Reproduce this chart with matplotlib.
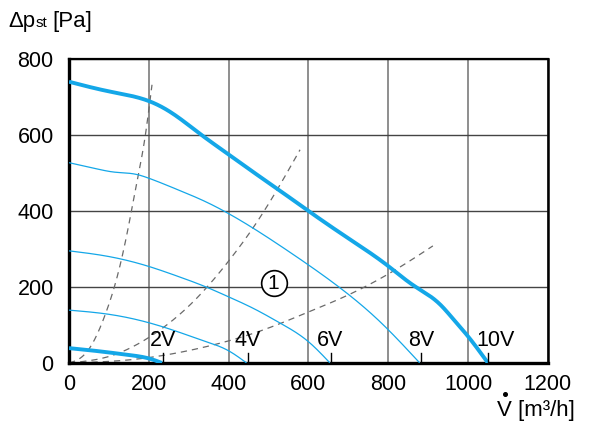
import matplotlib
matplotlib.use("Agg")
import matplotlib.pyplot as plt
from matplotlib.lines import Line2D
import numpy as np

plt.rcParams['font.family'] = ['Liberation Sans', 'DejaVu Sans']

# Fan curves (flow m3/h, static pressure Pa)
v10_x = [0, 103, 203, 253, 332, 378, 450, 525, 600, 700, 800, 862, 929, 965, 1000, 1050]
v10_y = [740, 714, 688, 661, 600, 565, 511, 456, 400, 328, 255, 205, 155, 113, 70, 0]
v8_x = [0, 60, 115, 165, 203, 270, 341, 400, 461, 530, 600, 696, 779, 879]
v8_y = [527, 513, 502, 497, 485, 457, 425, 393, 355, 308, 258, 184, 109, 0]
v6_x = [0, 100, 203, 270, 341, 400, 465, 529, 600, 654]
v6_y = [295, 280, 253, 229, 201, 174, 142, 105, 56, 0]
v4_x = [0, 100, 203, 270, 341, 400, 445]
v4_y = [139, 128, 105, 83, 57, 32, 0]
v2_x = [0, 73, 150, 203, 233]
v2_y = [39, 31, 21, 11, 0]

# System curves (dashed)
s1_x = [0, 30, 57, 90, 124, 149, 170, 190, 208]
s1_y = [0, 14, 48, 125, 240, 359, 475, 590, 732]
s2_x = [0, 100, 200, 328, 400, 461, 524, 579]
s2_y = [0, 17, 67, 179, 268, 355, 460, 561]
s3_x = [0, 150, 328, 495, 600, 696, 829, 912]
s3_y = [0, 8, 39, 90, 134, 177, 252, 308]

labels = ["2V", "4V", "6V", "8V", "10V"]
tick_x = [235, 448, 656, 881, 1050]
label_x = [236, 447, 654, 882, 1068]

blue = "#14a7e8"


def spline(x, y, n=400):
    """Natural cubic spline through the read points."""
    x = np.asarray(x, float); y = np.asarray(y, float)
    N = len(x); h = np.diff(x)
    A = np.zeros((N, N)); b = np.zeros(N)
    A[0, 0] = 1; A[-1, -1] = 1
    for i in range(1, N - 1):
        A[i, i - 1] = h[i - 1]; A[i, i] = 2 * (h[i - 1] + h[i]); A[i, i + 1] = h[i]
        b[i] = 6 * ((y[i + 1] - y[i]) / h[i] - (y[i] - y[i - 1]) / h[i - 1])
    M = np.linalg.solve(A, b)
    t = np.linspace(x[0], x[-1], n)
    k = np.clip(np.searchsorted(x, t) - 1, 0, N - 2)
    a = x[k + 1] - t; c = t - x[k]; hk = h[k]
    yy = (M[k] * a**3 + M[k + 1] * c**3) / (6 * hk) + (y[k] / hk - M[k] * hk / 6) * a + (y[k + 1] / hk - M[k + 1] * hk / 6) * c
    return t, yy


fig = plt.figure(figsize=(6, 4.24), dpi=100)
ax = fig.add_axes([0.115, 0.144, 0.798, 0.717])

for x, y in [(s1_x, s1_y), (s2_x, s2_y), (s3_x, s3_y)]:
    sx, sy = spline(x, y)
    ax.plot(sx, sy, color="#6a6a6a", lw=0.9, ls=(0, (5, 4)), zorder=2)

for x, y, lw in [(v10_x, v10_y, 2.8), (v8_x, v8_y, 0.9), (v6_x, v6_y, 0.9),
                 (v4_x, v4_y, 0.9), (v2_x, v2_y, 2.8)]:
    sx, sy = spline(x, y)
    ax.plot(sx, sy, color=blue, lw=lw, zorder=3, solid_capstyle="butt")

for lab, tx, lx in zip(labels, tick_x, label_x):
    ax.plot([tx, tx], [0, 26], color="black", lw=1.0, zorder=4)
    ax.text(lx, 32, lab, fontsize=15.5, ha="center", va="bottom", zorder=5)

# circled marker "1"
ax.plot([513], [210], marker="o", ms=18.5, mfc="white", mec="black", mew=1.2, zorder=5)
ax.text(513, 208, "1", fontsize=15, ha="center", va="center", zorder=6)

ax.set_xlim(0, 1200)
ax.set_ylim(0, 800)
ax.set_xticks(range(0, 1201, 200))
ax.set_yticks(range(0, 801, 200))
ax.xaxis.grid(True, color="#707070", lw=1.1)
ax.yaxis.grid(True, color="#444444", lw=1.0)
ax.set_axisbelow(True)
ax.spines['left'].set_linewidth(2.4)
ax.spines['bottom'].set_linewidth(2.4)
ax.spines['top'].set_linewidth(1.6)
ax.spines['right'].set_linewidth(1.8)
ax.tick_params(length=0, labelsize=15.5)
ax.tick_params(axis='y', pad=11)
ax.tick_params(axis='x', pad=8)

# axis titles
fig.text(8 / 600, 1 - 27 / 424, "Δp", fontsize=16, ha="left", va="baseline")
fig.text(36 / 600, 1 - 27 / 424, "st", fontsize=11, ha="left", va="baseline")
fig.text(52 / 600, 1 - 27 / 424, "[Pa]", fontsize=16, ha="left", va="baseline")

fig.text(497 / 600, 1 - 416 / 424, "V [m³/h]", fontsize=16, ha="left", va="baseline")
fig.add_artist(Line2D([504.5 / 600], [1 - 394 / 424], marker="o", ms=2.6, color="black",
                      lw=0, transform=fig.transFigure))

fig.savefig("out.png", dpi=100)
